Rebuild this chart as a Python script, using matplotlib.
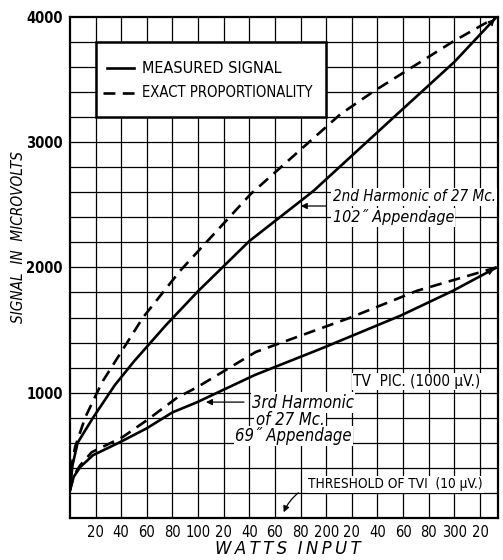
import matplotlib
matplotlib.use("Agg")
import matplotlib.pyplot as plt
from matplotlib.patches import Rectangle

# readings (watts input vs microvolts)
h2_meas_w = [0, 2, 6, 18, 35, 50, 75, 100, 140, 190, 255, 300, 333]
h2_meas_uv = [220, 420, 600, 800, 1060, 1250, 1540, 1810, 2210, 2610, 3220, 3640, 4000]

h2_prop_w = [0, 1, 4, 12, 22, 26, 57, 86, 141, 211, 237, 299, 333]
h2_prop_uv = [220, 400, 565, 804, 1018, 1098, 1600, 1973, 2585, 3222, 3405, 3803, 4000]

h3_meas_w = [0, 3, 8, 18, 39, 60, 80, 99, 144, 198, 258, 299, 333]
h3_meas_uv = [220, 330, 406, 501, 605, 716, 843, 923, 1140, 1360, 1615, 1814, 2000]

h3_prop_w = [0, 3, 8, 17, 41, 60, 84, 99, 145, 219, 271, 333]
h3_prop_uv = [220, 340, 420, 525, 645, 780, 963, 1042, 1325, 1600, 1814, 2000]

x_ticks = list(range(20, 321, 20))
x_labels = ["20", "40", "60", "80", "100", "20", "40", "60", "80", "200",
            "20", "40", "60", "80", "300", "20"]
y_ticks = [1000, 2000, 3000, 4000]

plt.rcParams["font.family"] = ["DejaVu Sans"]
plt.rcParams["font.stretch"] = "condensed"

fig = plt.figure(figsize=(5.03, 5.60), dpi=100)
ax = fig.add_axes([0.139, 0.075, 0.851, 0.895])
ax.set_xlim(0, 334)
ax.set_ylim(0, 4000)

# grid
for gx in range(20, 334, 20):
    ax.axvline(gx, color="black", lw=0.9, zorder=1)
for gy in range(200, 4000, 200):
    ax.axhline(gy, color="black", lw=0.9, zorder=1)
for s in ax.spines.values():
    s.set_linewidth(1.6)

lw = 1.9
dash = (0, (4.5, 2.8))
ax.plot(h2_meas_w, h2_meas_uv, color="black", lw=lw, zorder=4, solid_capstyle="butt")
ax.plot(h2_prop_w, h2_prop_uv, color="black", lw=lw, ls=dash, zorder=4)
ax.plot(h3_meas_w, h3_meas_uv, color="black", lw=lw, zorder=4, solid_capstyle="butt")
ax.plot(h3_prop_w, h3_prop_uv, color="black", lw=lw, ls=dash, zorder=4)

# small arrowheads at the curve ends
for xs, ys in [(h2_meas_w, h2_meas_uv), (h3_meas_w, h3_meas_uv)]:
    ax.annotate("", xy=(xs[-1], ys[-1]), xytext=(xs[-2] + 0.85 * (xs[-1] - xs[-2]),
                                                ys[-2] + 0.85 * (ys[-1] - ys[-2])),
                arrowprops=dict(arrowstyle="-|>", color="black", lw=0.8,
                                mutation_scale=10), zorder=5)

ax.set_xticks(x_ticks)
ax.set_xticklabels(x_labels)
ax.set_yticks(y_ticks)
ax.set_yticklabels([str(v) for v in y_ticks])
ax.tick_params(length=0, labelsize=10.5, pad=5)
for t in ax.get_yticklabels():
    t.set_fontweight("bold")

ts = "\u2009"
ax.set_xlabel(ts.join("WATTS") + "  " + ts.join("INPUT"), fontsize=12,
              style="italic", fontstretch="normal")
ax.xaxis.set_label_coords(0.51, -0.043)
ax.set_ylabel("SIGNAL  IN  MICROVOLTS", fontsize=11, style="italic")
ax.yaxis.set_label_coords(-0.103, 0.56)

# legend box
ax.add_patch(Rectangle((20, 3200), 180, 600, facecolor="white", edgecolor="black",
                       lw=1.8, zorder=3))
ax.plot([29, 50], [3590, 3590], color="black", lw=lw, zorder=4)
ax.plot([26, 50], [3395, 3395], color="black", lw=lw, ls=dash, zorder=4)
ax.text(56, 3590, "MEASURED SIGNAL", fontsize=11.6, va="center", zorder=4)
ax.text(56, 3395, "EXACT PROPORTIONALITY", fontsize=10.6, va="center", zorder=4)

box = dict(facecolor="white", edgecolor="none", pad=1.0)
ax.text(205, 2563, "2nd Harmonic of 27 Mc.", fontsize=10.9, style="italic",
        va="center", bbox=box, zorder=3)
ax.text(205, 2400, "102\u02dd Appendage", fontsize=11.5, style="italic",
        va="center", bbox=box, zorder=3)
ax.annotate("", xy=(178, 2490), xytext=(202, 2490),
            arrowprops=dict(arrowstyle="-|>", color="black", lw=0.9,
                            mutation_scale=9), zorder=5)

ax.text(142, 920, "3rd Harmonic", fontsize=12, style="italic", va="center",
        bbox=box, zorder=3)
ax.text(145, 785, "of 27 Mc.", fontsize=12, style="italic", va="center",
        bbox=box, zorder=3)
ax.text(129, 655, "69\u02dd Appendage", fontsize=12, style="italic", va="center",
        bbox=box, zorder=3)
ax.annotate("", xy=(104, 925), xytext=(138, 925),
            arrowprops=dict(arrowstyle="-|>", color="black", lw=0.9,
                            mutation_scale=9), zorder=5)

ax.text(221, 1090, "TV  PIC. (1000 \u03bcV.)", fontsize=11, va="center",
        bbox=box, zorder=3)
ax.text(186, 270, "THRESHOLD OF TVI  (10 \u03bcV.)", fontsize=9.8, va="center",
        bbox=box, zorder=3)
ax.annotate("", xy=(166, 25), xytext=(180, 215),
            arrowprops=dict(arrowstyle="-|>", color="black", lw=0.9,
                            mutation_scale=9, connectionstyle="arc3,rad=0.15"),
            zorder=5)

fig.savefig("out.png", dpi=100)
